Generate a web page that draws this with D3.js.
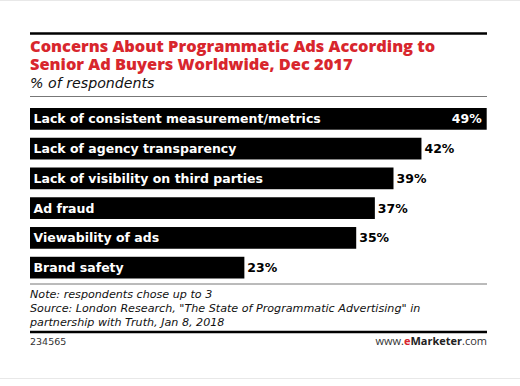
<!DOCTYPE html>
<html>
<head>
<meta charset="utf-8">
<script src="https://cdn.jsdelivr.net/npm/d3@7"></script>
<style>
  body { margin: 0; background: #fff; }
  svg { display: block; }
</style>
</head>
<body>
<svg id="chart"></svg>
<script>
const width = 520;
const height = 386;

const categories = [
    "Lack of consistent measurement/metrics",
    "Lack of agency transparency",
    "Lack of visibility on third parties",
    "Ad fraud",
    "Viewability of ads",
    "Brand safety"
];
const values = [49, 42, 39, 37, 35, 23];

const titleLines = [
    "Concerns About Programmatic Ads According to",
    "Senior Ad Buyers Worldwide, Dec 2017"
];
const subtitle = "% of respondents";
const noteLines = [
    "Note: respondents chose up to 3",
    "Source: London Research, \"The State of Programmatic Advertising\" in",
    "partnership with Truth, Jan 8, 2018"
];
const chartId = "234565";

const left = 30;
const right = 487;
const red = "#d8262d";

const svg = d3.select("#chart")
    .attr("width", width)
    .attr("height", height);

// faint frame lines
svg.append("line").attr("x1", 0).attr("x2", width).attr("y1", 0.5).attr("y2", 0.5)
    .attr("stroke", "#e8e8e8");
svg.append("line").attr("x1", 0).attr("x2", width).attr("y1", 378.5).attr("y2", 378.5)
    .attr("stroke", "#e8e8e8");

// top rule
svg.append("line").attr("x1", left).attr("x2", right).attr("y1", 33.5).attr("y2", 33.5)
    .attr("stroke", "#000").attr("stroke-width", 2.5);

svg.selectAll("text.title")
    .data(titleLines)
    .enter().append("text")
    .attr("class", "title")
    .attr("x", left)
    .attr("y", (d, i) => 51.8 + i * 17.8)
    .attr("font-family", "'Open Sans', sans-serif")
    .attr("font-weight", 800)
    .attr("font-size", 16.4)
    .attr("fill", red)
    .text(d => d);

svg.append("text")
    .attr("x", left)
    .attr("y", 88)
    .attr("font-family", "'DejaVu Sans', sans-serif")
    .attr("font-style", "italic")
    .attr("font-size", 14.2)
    .attr("fill", "#111")
    .text(subtitle);

svg.append("line").attr("x1", left).attr("x2", right).attr("y1", 96.5).attr("y2", 96.5)
    .attr("stroke", "#777").attr("stroke-width", 1);

// bars
const x = d3.scaleLinear()
    .domain([0, d3.max(values)])
    .range([left, 486.7]);

const y = d3.scaleBand()
    .domain(categories)
    .range([108, 278.5])
    .paddingInner(0.27)
    .paddingOuter(0);

const data = categories.map((c, i) => ({ name: c, value: values[i] }));

svg.selectAll("rect.bar")
    .data(data)
    .enter().append("rect")
    .attr("class", "bar")
    .attr("x", x(0))
    .attr("y", d => y(d.name))
    .attr("width", d => x(d.value) - x(0))
    .attr("height", y.bandwidth())
    .attr("fill", "#000");

svg.selectAll("text.cat")
    .data(data)
    .enter().append("text")
    .attr("class", "cat")
    .attr("x", left + 3.5)
    .attr("y", d => y(d.name) + y.bandwidth() / 2 + 4.6)
    .attr("font-family", "'DejaVu Sans', sans-serif")
    .attr("font-weight", 700)
    .attr("font-size", 12.5)
    .attr("fill", "#fff")
    .text(d => d.name);

const maxVal = d3.max(values);
svg.selectAll("text.val")
    .data(data)
    .enter().append("text")
    .attr("class", "val")
    .attr("x", d => d.value === maxVal ? x(d.value) - 5 : x(d.value) + 3)
    .attr("y", d => y(d.name) + y.bandwidth() / 2 + 4.6)
    .attr("text-anchor", d => d.value === maxVal ? "end" : "start")
    .attr("font-family", "'DejaVu Sans', sans-serif")
    .attr("font-weight", 700)
    .attr("font-size", 12.5)
    .attr("fill", d => d.value === maxVal ? "#fff" : "#000")
    .text(d => d.value + "%");

// notes
svg.append("line").attr("x1", left).attr("x2", right).attr("y1", 284).attr("y2", 284)
    .attr("stroke", "#777").attr("stroke-width", 1);

svg.selectAll("text.note")
    .data(noteLines)
    .enter().append("text")
    .attr("class", "note")
    .attr("x", left)
    .attr("y", (d, i) => 298 + i * 14.2)
    .attr("font-family", "'DejaVu Sans', sans-serif")
    .attr("font-style", "italic")
    .attr("font-size", 11.15)
    .attr("fill", "#111")
    .text(d => d);

svg.append("line").attr("x1", left).attr("x2", right).attr("y1", 332).attr("y2", 332)
    .attr("stroke", "#000").attr("stroke-width", 2.5);

svg.append("text")
    .attr("x", left)
    .attr("y", 345)
    .attr("font-family", "'DejaVu Sans', sans-serif")
    .attr("font-size", 9.5)
    .attr("fill", "#333")
    .text(chartId);

const brand = svg.append("text")
    .attr("x", right)
    .attr("y", 345)
    .attr("text-anchor", "end")
    .attr("font-family", "'Open Sans', sans-serif")
    .attr("font-size", 11)
    .attr("fill", "#333");
brand.append("tspan").text("www.");
brand.append("tspan").attr("fill", red).attr("font-weight", 700).text("e");
brand.append("tspan").attr("font-weight", 700).attr("fill", "#222").text("Marketer");
brand.append("tspan").text(".com");
</script>
</body>
</html>
